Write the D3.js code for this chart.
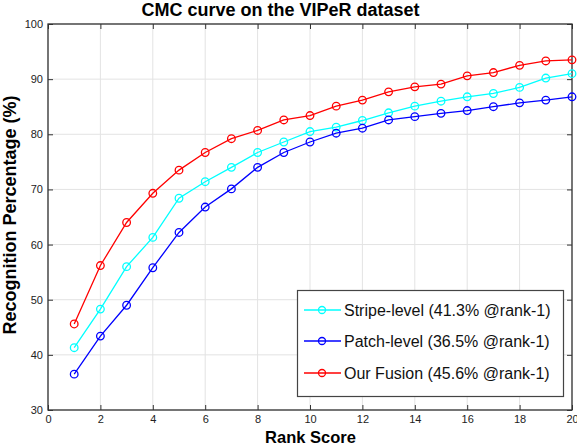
<!DOCTYPE html>
<html><head><meta charset="utf-8">
<script src="https://cdn.jsdelivr.net/npm/d3@7"></script>
<style>body{margin:0;background:#fff}svg{display:block}text{font-family:"Liberation Sans",Arial,Helvetica,sans-serif}</style>
</head><body><svg id="c" width="577" height="446"></svg>
<script>
const ranks = d3.range(1, 21);
const stripe = [41.3,48.3,56.0,61.3,68.4,71.4,74.0,76.7,78.6,80.5,81.3,82.5,83.9,85.1,86.0,86.8,87.4,88.5,90.2,91.0];
const patch  = [36.5,43.4,49.0,55.8,62.2,66.8,70.1,74.0,76.7,78.6,80.2,81.1,82.6,83.2,83.8,84.3,85.0,85.7,86.2,86.8];
const fusion = [45.6,56.2,64.0,69.3,73.5,76.7,79.2,80.7,82.6,83.4,85.1,86.2,87.7,88.6,89.1,90.6,91.2,92.5,93.3,93.5];
const seriesNames = ["Stripe-level (41.3% @rank-1)","Patch-level (36.5% @rank-1)","Our Fusion (45.6% @rank-1)"];
const seriesColors = ["#00ffff","#0000ff","#ff0000"];
const xTicks = [0,2,4,6,8,10,12,14,16,18,20];
const yTicks = [30,40,50,60,70,80,90,100];

const svg = d3.select("#c");
const L=48,R=572,T=24,B=410;
const x = d3.scaleLinear().domain([0,20]).range([L,R]);
const y = d3.scaleLinear().domain([30,100]).range([B,T]);

// grid
const g = svg.append("g");
g.selectAll(".gx").data(xTicks).enter().append("line")
 .attr("x1",d=>x(d)).attr("x2",d=>x(d)).attr("y1",T).attr("y2",B)
 .attr("stroke","#e3e3e3").attr("stroke-width",1);
g.selectAll(".gy").data(yTicks).enter().append("line")
 .attr("y1",d=>y(d)).attr("y2",d=>y(d)).attr("x1",L).attr("x2",R)
 .attr("stroke","#e3e3e3").attr("stroke-width",1);

// axes with inward ticks
const axFont = sel=>sel.selectAll("text").attr("font-size",11).attr("fill","#222");
const bx = svg.append("g").attr("transform",`translate(0,${B})`)
 .call(d3.axisBottom(x).tickValues(xTicks).tickSizeInner(-5).tickSizeOuter(0).tickPadding(5));
bx.call(axFont);
const lx = svg.append("g").attr("transform",`translate(${L},0)`)
 .call(d3.axisLeft(y).tickValues(yTicks).tickSizeInner(-5).tickSizeOuter(0).tickPadding(5));
lx.call(axFont);
const tx = svg.append("g").attr("transform",`translate(0,${T})`)
 .call(d3.axisTop(x).tickValues(xTicks).tickSizeInner(-5).tickSizeOuter(0).tickFormat(""));
const rx = svg.append("g").attr("transform",`translate(${R},0)`)
 .call(d3.axisRight(y).tickValues(yTicks).tickSizeInner(-5).tickSizeOuter(0).tickFormat(""));
[bx,lx,tx,rx].forEach(a=>{a.select(".domain").remove();a.selectAll("line").attr("stroke","#333");});
svg.append("rect").attr("x",L).attr("y",T).attr("width",R-L).attr("height",B-T)
 .attr("fill","none").attr("stroke","#333").attr("stroke-width",1.3);

// series
const all=[stripe,patch,fusion];
const line = d3.line().x((d,i)=>x(ranks[i])).y(d=>y(d));
all.forEach((s,k)=>{
  const sg=svg.append("g");
  sg.append("path").datum(s).attr("d",line).attr("fill","none")
    .attr("stroke",seriesColors[k]).attr("stroke-width",1.3);
  sg.selectAll("circle").data(s).enter().append("circle")
    .attr("cx",(d,i)=>x(ranks[i])).attr("cy",d=>y(d)).attr("r",3.8)
    .attr("fill","none").attr("stroke",seriesColors[k]).attr("stroke-width",1.3);
});

// legend
const lg = svg.append("g");
lg.append("rect").attr("x",297.5).attr("y",290.5).attr("width",266).attr("height",106)
 .attr("fill","#fff").attr("stroke","#444").attr("stroke-width",1.2);
seriesNames.forEach((n,k)=>{
  const yy=[310,341,373][k];
  lg.append("line").attr("x1",304).attr("x2",341).attr("y1",yy).attr("y2",yy)
    .attr("stroke",seriesColors[k]).attr("stroke-width",1.3);
  lg.append("circle").attr("cx",322).attr("cy",yy).attr("r",3.5)
    .attr("fill","none").attr("stroke",seriesColors[k]).attr("stroke-width",1.3);
  lg.append("text").attr("x",344).attr("y",yy+5.7).attr("font-size",16).attr("fill","#111").text(n);
});

// titles
svg.append("text").attr("x",280.5).attr("y",15.5).attr("text-anchor","middle")
 .attr("font-size",18).attr("font-weight","bold").text("CMC curve on the VIPeR dataset");
svg.append("text").attr("x",310.5).attr("y",443).attr("text-anchor","middle")
 .attr("font-size",16.5).attr("font-weight","bold").text("Rank Score");
svg.append("text").attr("transform","translate(16,215) rotate(-90)").attr("text-anchor","middle")
 .attr("font-size",18).attr("font-weight","bold").text("Recognition Percentage (%)");
</script></body></html>
